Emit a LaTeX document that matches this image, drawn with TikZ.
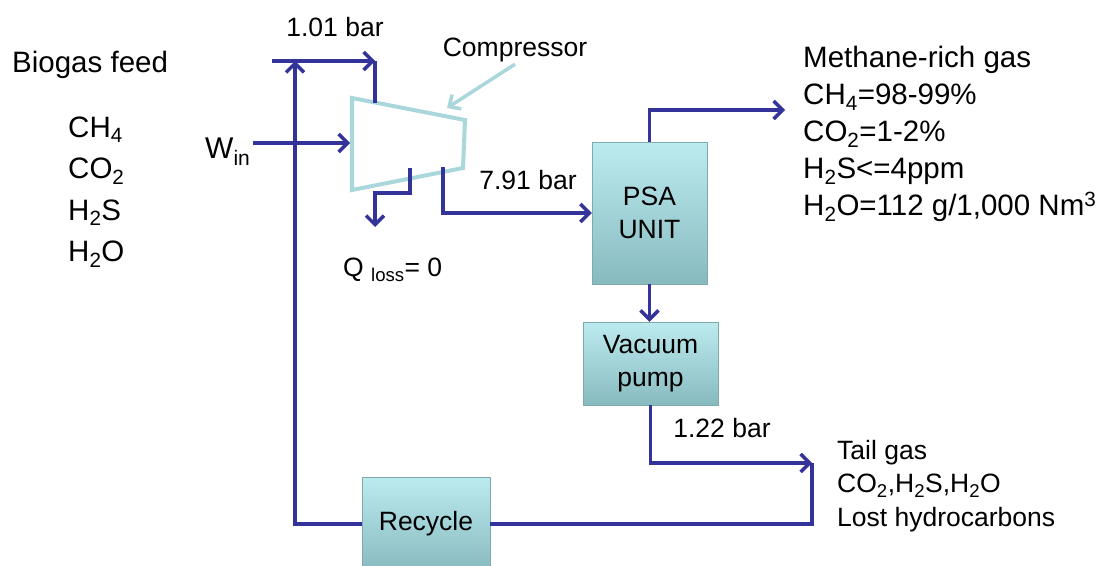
\documentclass[tikz,border=0pt]{standalone}
\usepackage{fontspec}
\setmainfont{Liberation Sans}
\usepackage{tikz}
\usetikzlibrary{arrows.meta,positioning}

\definecolor{flowblue}{RGB}{51,51,153}
\definecolor{compcyan}{RGB}{170,215,220}
\definecolor{boxtop}{RGB}{188,235,239}
\definecolor{boxbot}{RGB}{135,186,191}
\definecolor{boxedge}{RGB}{125,170,175}

\begin{document}
\begin{tikzpicture}[
  x=1pt, y=-1pt,
  big/.style={font=\fontsize{29.5}{37}\selectfont, inner sep=2pt},
  lbl/.style={font=\fontsize{26.5}{33}\selectfont, inner sep=2pt},
  unit/.style={draw=boxedge, thin, top color=boxtop, bottom color=boxbot,
    align=center, font=\fontsize{26.5}{33}\selectfont, inner sep=2pt},
  flow/.style={draw=flowblue, line width=3.5pt},
  arr/.style={flow, -{Straight Barb[length=9pt,width=18pt]}},
  callout/.style={draw=compcyan, line width=3.5pt,
    -{Straight Barb[length=9pt,width=17pt]}},
  comp/.style={draw=compcyan, line width=4pt, fill=white}
]
\clip (0,0) rectangle (1099,565);
\fill[white] (0,0) rectangle (1099,565);

% Feed side
\node[big, anchor=west] (feedlbl) at (10,65) {Biogas feed};
\node[big, anchor=west, align=left, font=\fontsize{29.5}{41.5}\selectfont]
  (species) at (66,192)
  {CH\textsubscript{4}\\CO\textsubscript{2}\\H\textsubscript{2}S\\H\textsubscript{2}O};
\node[big, anchor=west, font=\fontsize{30}{36}\selectfont] (win) at (203,152)
  {W\textsubscript{in}};

% Compressor
\coordinate (c1) at (352,98);
\coordinate (c2) at (465,120);
\coordinate (c3) at (463,168);
\coordinate (c4) at (352,190);
\draw[comp] (c1) -- (c2) -- (c3) -- (c4) -- cycle;
\node[lbl] (complbl) at (515,50) {Compressor};
\coordinate (cpoint) at (447,108);
\draw[callout] (complbl.south) -- (cpoint);

% Stream points
\coordinate (feed) at (272,61);
\coordinate (mix) at (375,61);
\coordinate (join) at (295,61);
\coordinate (ctop) at (375,103);
\coordinate (cin) at (350,143);
\coordinate (qout) at (410,168);
\coordinate (qdrop) at (375,227);
\coordinate (cout) at (443,167);
\coordinate (prod) at (785,110);
\coordinate (tail) at (812,463);

% Units
\node[unit, minimum width=115pt, minimum height=142pt] (psa) at (649.5,213)
  {PSA\\UNIT};
\node[unit, minimum width=135pt, minimum height=83pt] (vac) at (650.5,363.5)
  {Vacuum\\pump};
\node[unit, minimum width=128pt, minimum height=94pt] (rec) at (426,524)
  {Recycle};

% Pressure labels
\node[lbl] (p101) at (335,27) {1.01 bar};
\node[lbl] (p791) at (528,180) {7.91 bar};
\node[lbl] (p122) at (722,428) {1.22 bar};
\node[lbl, anchor=west] (qloss) at (341,270) {Q \textsubscript{loss}= 0};

% Streams
\draw[arr] (feed) -- (mix);
\draw[flow] (mix) -- (ctop);
\draw[arr] (cin -| win.east) -- (cin);
\draw[arr] (rec.west) -| (join);
\draw[arr] (qout) -- ++(0,25) -| (qdrop);
\draw[arr] (cout) |- (psa.west);
\draw[arr] (psa.north) |- (prod);
\draw[arr] (psa.south) -- (psa.south |- vac.north);
\draw[arr] (vac.south) |- (tail);
\draw[flow] (rec.east) -| (tail);

% Outlet compositions
\node[big, anchor=west, align=left] (prodlbl) at (801,134)
  {Methane-rich gas\\
   CH\textsubscript{4}=98-99\%\\
   CO\textsubscript{2}=1-2\%\\
   H\textsubscript{2}S<=4ppm\\
   H\textsubscript{2}O=112 g/1,000 Nm\textsuperscript{3}};
\node[lbl, anchor=west, align=left, font=\fontsize{26.5}{33.5}\selectfont]
  (taillbl) at (835,486)
  {Tail gas\\
   CO\textsubscript{2},H\textsubscript{2}S,H\textsubscript{2}O\\
   Lost hydrocarbons};

\end{tikzpicture}
\end{document}
